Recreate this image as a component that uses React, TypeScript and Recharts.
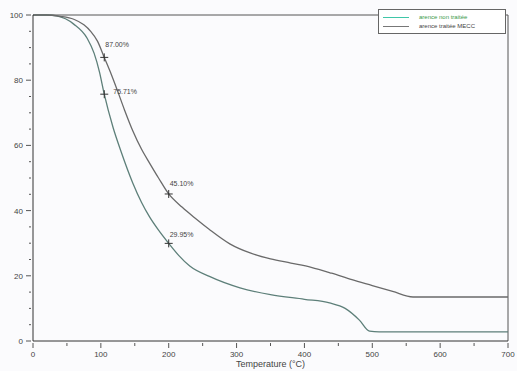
import { LineChart, Line, XAxis, YAxis, ReferenceLine, ReferenceDot } from "recharts";

// temperature (°C) / residual mass (%)
const untreatedT = [0, 20, 35, 60, 80, 90, 98, 105, 118, 130, 147, 160, 172, 185, 200, 215, 231, 260, 305, 350, 400, 437, 460, 481, 496, 510, 600, 700];
const untreatedM = [100, 100, 99.7, 97.2, 92.8, 88.3, 82.5, 75.71, 65.5, 58, 48.5, 42.5, 38, 34, 29.95, 26.2, 23, 19.8, 16.3, 14.2, 12.8, 11.7, 10, 6.4, 3, 2.8, 2.8, 2.8];

const treatedT = [0, 20, 40, 60, 75, 85, 95, 105, 115, 125, 135, 147, 160, 172, 185, 200, 220, 240, 260, 290, 320, 350, 380, 410, 440, 470, 500, 530, 560, 600, 650, 700];
const treatedM = [100, 100, 99.6, 98.7, 97, 95, 92, 87, 82, 76.5, 70.8, 64.5, 58.8, 54.5, 50, 45.1, 41, 37.5, 34.2, 29.8, 27, 25.2, 23.9, 22.6, 20.8, 18.8, 17, 15.2, 13.5, 13.5, 13.5, 13.5];

const markerT = [105, 105, 200, 200];
const markerM = [87.0, 75.71, 45.1, 29.95];
const markerLabels = ["87.00%", "75.71%", "45.10%", "29.95%"];
const markerDx = [0, 8, 0, 0];
const markerDy = [-10, 0, -8, -6];

const xTicks = [0, 50, 100, 150, 200, 250, 300, 350, 400, 450, 500, 550, 600, 650, 700];
const yTicks = [0, 5, 10, 15, 20, 25, 30, 35, 40, 45, 50, 55, 60, 65, 70, 75, 80, 85, 90, 95, 100];

const seriesNames = ["arence non traitée", "arence traitée MECC"];
const seriesColors = ["#5d7f79", "#6a6a6a"];

const untreated = untreatedT.map((t, i) => ({ t, m: untreatedM[i] }));
const treated = treatedT.map((t, i) => ({ t, m: treatedM[i] }));

const font = "'Liberation Sans', Arial, sans-serif";

function XTick(props: any) {
  const { x, y, payload } = props;
  const major = payload.value % 100 === 0;
  return (
    <g>
      <line x1={x} x2={x} y1={y - 6} y2={y - 6 + (major ? 5 : 3)} stroke="#555" />
      {major && (
        <text x={x} y={y + 8} textAnchor="middle" fontSize={8} fill="#444" fontFamily={font}>
          {payload.value}
        </text>
      )}
    </g>
  );
}

function YTick(props: any) {
  const { x, y, payload } = props;
  const major = payload.value % 20 === 0;
  return (
    <g>
      <line x1={x + 6 - (major ? 5 : 2)} x2={x + 6} y1={y} y2={y} stroke="#555" />
      {major && (
        <text x={x - 2} y={y + 3} textAnchor="end" fontSize={8} fill="#444" fontFamily={font}>
          {payload.value}
        </text>
      )}
    </g>
  );
}

function Marker(props: any, i: number) {
  const { cx, cy } = props;
  return (
    <g>
      <line x1={cx - 4} x2={cx + 4} y1={cy} y2={cy} stroke="#333" />
      <line x1={cx} x2={cx} y1={cy - 4} y2={cy + 4} stroke="#333" />
      <text x={cx + 1 + markerDx[i]} y={cy + markerDy[i]} fontSize={7} fill="#444" fontFamily={font}>
        {markerLabels[i]}
      </text>
    </g>
  );
}

function LegendBox() {
  return (
    <div style={{ position: "absolute", left: 378, top: 9, width: 128, height: 25, border: "1px solid #666", background: "#fff", fontFamily: font, fontSize: 6, lineHeight: "9px", paddingTop: 3, boxSizing: "border-box" }}>
      {seriesNames.map((n, i) => (
        <div key={n} style={{ display: "flex", alignItems: "center" }}>
          <span style={{ display: "inline-block", width: 26, borderTop: `1px solid ${i === 0 ? "#3fc6a8" : "#777"}`, marginLeft: 4, marginRight: 10 }} />
          <span style={{ color: i === 0 ? "#3a9a4a" : "#444" }}>{n}</span>
        </div>
      ))}
    </div>
  );
}

export default function App() {
  return (
    <div style={{ position: "absolute", left: 0, top: 0, width: 517, height: 371, background: "#fbfbfd" }}>
      <LineChart width={517} height={371} margin={{ top: 15, right: 9, left: 0, bottom: 0 }}>
        <XAxis
          type="number"
          dataKey="t"
          domain={[0, 700]}
          ticks={xTicks}
          interval={0}
          tick={<XTick />}
          tickLine={false}
          axisLine={{ stroke: "#333" }}
          height={30}
          allowDuplicatedCategory={false}
          label={{ value: "Temperature    (°C)", position: "insideBottom", offset: 4, fontSize: 9, fill: "#444", fontFamily: font }}
        />
        <YAxis
          type="number"
          dataKey="m"
          domain={[0, 100]}
          ticks={yTicks}
          interval={0}
          tick={<YTick />}
          tickLine={false}
          axisLine={{ stroke: "#333" }}
          width={33}
        />
        <ReferenceLine y={100} stroke="#555" />
        <ReferenceLine x={700} stroke="#555" />
        <Line data={untreated} dataKey="m" name={seriesNames[0]} type="monotone" stroke={seriesColors[0]} strokeWidth={1.3} dot={false} isAnimationActive={false} />
        <Line data={treated} dataKey="m" name={seriesNames[1]} type="monotone" stroke={seriesColors[1]} strokeWidth={1.3} dot={false} isAnimationActive={false} />
        {markerT.map((t, i) => (
          <ReferenceDot key={i} x={t} y={markerM[i]} r={4} shape={(p: any) => Marker(p, i)} />
        ))}
      </LineChart>
      <LegendBox />
    </div>
  );
}
